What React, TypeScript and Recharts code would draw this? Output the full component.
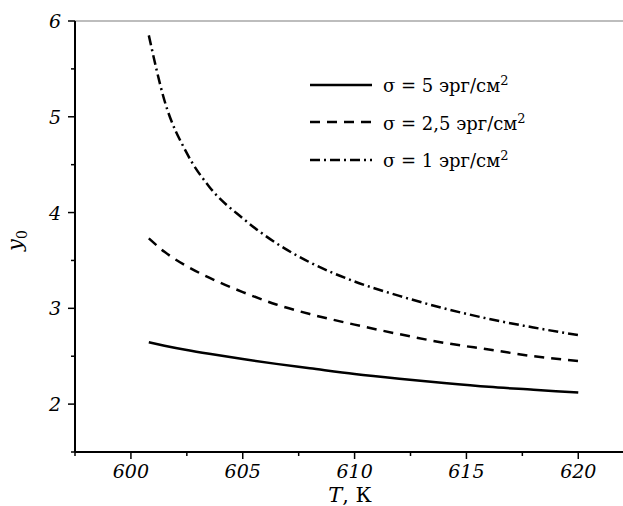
import React from "react";
import { LineChart, Line, XAxis, YAxis, ReferenceLine, Legend } from "recharts";

const T_VALUES = [600.8, 601.5, 602.5, 603.5, 605, 606.5, 608, 610, 612, 614, 616, 618, 620];
const SIGMA_5 = [2.645, 2.61, 2.565, 2.525, 2.47, 2.42, 2.375, 2.315, 2.265, 2.22, 2.18, 2.15, 2.12];
const SIGMA_2_5 = [3.73, 3.59, 3.44, 3.32, 3.17, 3.04, 2.94, 2.83, 2.73, 2.64, 2.57, 2.5, 2.45];
const SIGMA_1 = [5.85, 5.17, 4.62, 4.27, 3.94, 3.68, 3.48, 3.28, 3.13, 3.0, 2.89, 2.8, 2.72];

const X_TICKS = [597.5, 600, 602.5, 605, 607.5, 610, 612.5, 615, 617.5, 620];
const Y_TICKS = [1.5, 2, 2.5, 3, 3.5, 4, 4.5, 5, 5.5, 6];

const LEGEND_ITEMS = [
  { key: "s5", label: "σ = 5 эрг/см", dash: undefined },
  { key: "s25", label: "σ = 2,5 эрг/см", dash: "10 7" },
  { key: "s1", label: "σ = 1 эрг/см", dash: "10 4 2 4" },
];

const data = T_VALUES.map((T, i) => ({ T, s5: SIGMA_5[i], s25: SIGMA_2_5[i], s1: SIGMA_1[i] }));

const TICK_FONT = "'DejaVu Serif', serif";

const XTick = (props: any) => {
  const { x, y, payload } = props;
  const major = Math.abs(payload.value % 5) < 1e-6;
  return (
    <g>
      <line x1={x} y1={y} x2={x} y2={y + (major ? 7 : 4)} stroke="#000" strokeWidth={1.5} />
      {major && (
        <text x={x} y={y + 26} textAnchor="middle" fontFamily={TICK_FONT} fontStyle="italic" fontSize={19} fill="#000">
          {payload.value}
        </text>
      )}
    </g>
  );
};

const YTick = (props: any) => {
  const { x, y, payload } = props;
  const major = Math.abs(payload.value % 1) < 1e-6;
  return (
    <g>
      <line x1={x} y1={y} x2={x - (major ? 7 : 4)} y2={y} stroke="#000" strokeWidth={1.5} />
      {major && (
        <text x={x - 14} y={y + 7} textAnchor="end" fontFamily={TICK_FONT} fontStyle="italic" fontSize={19} fill="#000">
          {payload.value}
        </text>
      )}
    </g>
  );
};

const YLabel = (props: any) => {
  const vb = props.viewBox || { x: 0, y: 21, width: 75, height: 431 };
  const cx = 22;
  const cy = vb.y + vb.height / 2 + 4;
  return (
    <text
      x={cx}
      y={cy}
      transform={`rotate(-90 ${cx} ${cy})`}
      textAnchor="middle"
      fontFamily={TICK_FONT}
      fontSize={21}
      fill="#000"
    >
      <tspan fontStyle="italic">y</tspan>
      <tspan fontSize={14} dy={5}>0</tspan>
    </text>
  );
};

const XLabel = (props: any) => {
  const vb = props.viewBox || { x: 75, y: 452, width: 548, height: 54 };
  return (
    <text x={350} y={vb.y + 50} textAnchor="middle" fontFamily={TICK_FONT} fontSize={21} fill="#000">
      <tspan fontStyle="italic">T</tspan>
      <tspan>, К</tspan>
    </text>
  );
};

const renderLegend = () => (
  <div style={{ display: "flex", flexDirection: "column", fontFamily: TICK_FONT, fontSize: 18, color: "#000" }}>
    {LEGEND_ITEMS.map((it) => (
      <div key={it.key} style={{ display: "flex", alignItems: "center", height: 37.5 }}>
        <svg width={62} height={10} style={{ marginRight: 11 }}>
          <line x1={0} y1={5} x2={62} y2={5} stroke="#000" strokeWidth={2.5} strokeDasharray={it.dash} />
        </svg>
        <span style={{ whiteSpace: "nowrap" }}>
          {it.label}
          <sup style={{ fontSize: 13 }}>2</sup>
        </span>
      </div>
    ))}
  </div>
);

export default function App() {
  return (
    <div style={{ position: "absolute", left: 0, top: 0, width: 623, height: 506, background: "#fff" }}>
      <LineChart width={623} height={506} data={data} margin={{ top: 21, right: 0, bottom: 0, left: 0 }}>
        <ReferenceLine y={6} stroke="#bdbdbd" strokeWidth={2} ifOverflow="extendDomain" />
        <XAxis
          dataKey="T"
          type="number"
          domain={[597.5, 622]}
          ticks={X_TICKS}
          allowDataOverflow
          height={54}
          axisLine={{ stroke: "#000", strokeWidth: 2 }}
          tickLine={false}
          tickSize={0}
          tickMargin={0}
          tick={<XTick />}
          interval={0}
          label={<XLabel />}
        />
        <YAxis
          type="number"
          domain={[1.5, 6]}
          ticks={Y_TICKS}
          allowDataOverflow
          width={75}
          axisLine={{ stroke: "#000", strokeWidth: 2 }}
          tickLine={false}
          tickSize={0}
          tickMargin={0}
          tick={<YTick />}
          interval={0}
          label={<YLabel />}
        />
        <Legend
          content={renderLegend}
          layout="horizontal"
          verticalAlign="middle"
          align="center"
          wrapperStyle={{ left: 310, top: 66, width: 300, height: 115 }}
        />
        <Line dataKey="s5" type="monotone" stroke="#000" strokeWidth={2.5} dot={false} isAnimationActive={false} />
        <Line dataKey="s25" type="monotone" stroke="#000" strokeWidth={2.5} strokeDasharray="10 7" dot={false} isAnimationActive={false} />
        <Line dataKey="s1" type="monotone" stroke="#000" strokeWidth={2.5} strokeDasharray="10 4 2 4" dot={false} isAnimationActive={false} />
      </LineChart>
    </div>
  );
}
